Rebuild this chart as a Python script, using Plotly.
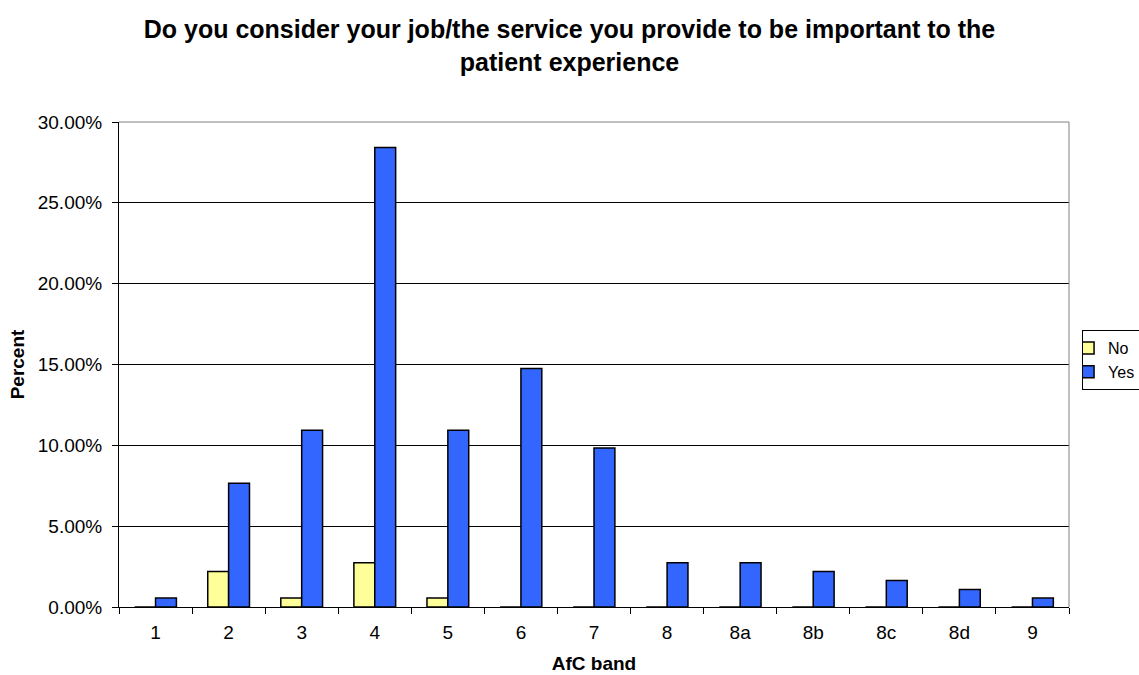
import plotly.graph_objects as go

bands = ["1", "2", "3", "4", "5", "6", "7", "8", "8a", "8b", "8c", "8d", "9"]
no_vals = [0.0, 2.19, 0.55, 2.73, 0.55, 0.0, 0.0, 0.0, 0.0, 0.0, 0.0, 0.0, 0.0]
yes_vals = [0.55, 7.65, 10.93, 28.42, 10.93, 14.75, 9.84, 2.73, 2.73, 2.19, 1.64, 1.09, 0.55]
y_ticks = [0, 5, 10, 15, 20, 25, 30]
y_tick_text = ["0.00%", "5.00%", "10.00%", "15.00%", "20.00%", "25.00%", "30.00%"]

FONT = "Liberation Sans, Arial, sans-serif"

fig = go.Figure()
fig.add_trace(go.Bar(x=bands, y=no_vals, name="No",
                     marker=dict(color="#FFFF99", line=dict(color="#000000", width=1.5))))
fig.add_trace(go.Bar(x=bands, y=yes_vals, name="Yes",
                     marker=dict(color="#3366FF", line=dict(color="#000000", width=1.5))))

fig.update_layout(
    width=1139, height=675,
    paper_bgcolor="white", plot_bgcolor="white",
    margin=dict(l=119, r=70, t=122, b=68, autoexpand=False),
    font=dict(family=FONT, size=19, color="black"),
    title=dict(text="<b>Do you consider your job/the service you provide to be important to the<br>patient experience</b>",
               x=0.5, xanchor="center", xref="container", y=0.9437, yanchor="top", yref="container",
               font=dict(family=FONT, size=25, color="black")),
    barmode="group", bargap=0.4286, bargroupgap=0,
    legend=dict(x=0.95, y=0.4667, xanchor="left", yanchor="middle",
                xref="container", yref="container",
                bordercolor="#000000", borderwidth=1, bgcolor="white",
                font=dict(size=16), itemwidth=30, tracegroupgap=0, indentation=-15),
    showlegend=True,
)
fig.update_xaxes(
    title=dict(text="<b>AfC band</b>", font=dict(size=19), standoff=14),
    type="category", tickson="boundaries", ticks="outside", ticklen=6,
    tickcolor="#000000", showline=True, linecolor="#000000", linewidth=1,
    mirror=False, showgrid=False, tickfont=dict(size=19), ticklabelstandoff=8,
    automargin=False,
)
fig.update_yaxes(
    title=dict(text="<b>Percent</b>", font=dict(size=19), standoff=8),
    range=[0, 30], tickvals=y_ticks, ticktext=y_tick_text,
    ticks="outside", ticklen=6, tickcolor="#000000",
    showline=True, linecolor="#000000", linewidth=1,
    showgrid=True, gridcolor="#000000", gridwidth=1,
    zeroline=False, tickfont=dict(size=19), ticklabelstandoff=6,
    automargin=False,
)
# gray plot border on top/right
fig.add_shape(type="line", xref="paper", yref="paper", x0=0, y0=1, x1=1, y1=1,
              line=dict(color="#808080", width=1), layer="above")
fig.add_shape(type="line", xref="paper", yref="paper", x0=1, y0=0, x1=1, y1=1,
              line=dict(color="#808080", width=1), layer="above")

fig.write_html("out.html")
